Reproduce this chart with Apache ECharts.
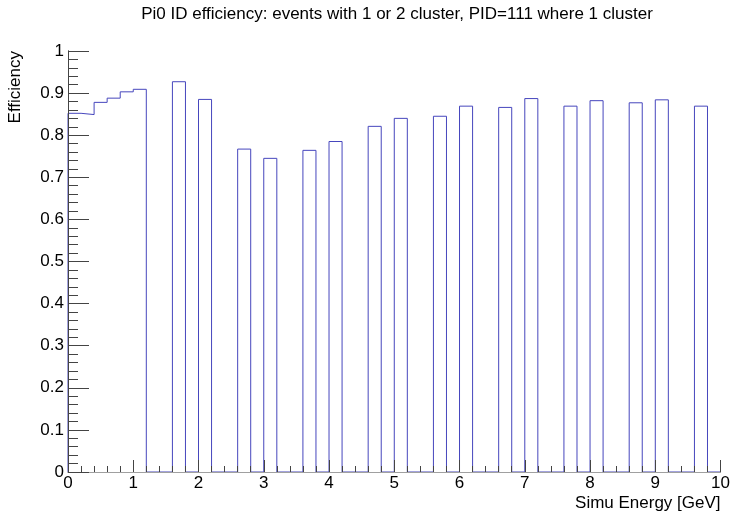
<!DOCTYPE html>
<html>
<head>
<meta charset="utf-8">
<script src="https://cdn.jsdelivr.net/npm/echarts@6/dist/echarts.min.js"></script>
<style>
  html, body { margin: 0; padding: 0; background: #fff; }
</style>
</head>
<body>
<div id="main" style="width: 733px;height: 513px"></div>
<script>
// histogram: 50 bins of 0.2 GeV from 0 to 10
const binWidth = 0.2
const xMin = 0
const xMax = 10
// efficiency per bin
const efficiency = [
  0.852, 0.849, 0.878, 0.888, 0.903, 0.909, 0, 0, 0.927, 0,
  0.885, 0, 0, 0.767, 0, 0.745, 0, 0, 0.764, 0,
  0.785, 0, 0, 0.821, 0, 0.840, 0, 0, 0.845, 0,
  0.869, 0, 0, 0.866, 0, 0.887, 0, 0, 0.869, 0,
  0.882, 0, 0, 0.877, 0, 0.884, 0, 0, 0.869, 0
]

// outline points: left edge of each bin, closed back to 0 at both ends
let outline = [[xMin, 0]]
for (let i = 0; i < efficiency.length; i++) {
  outline.push([xMin + i * binWidth, efficiency[i]])
}
outline.push([xMax, 0])

const font = 'Liberation Sans, Arial, Helvetica, sans-serif'

let myChart = echarts.init(document.getElementById('main'))
let option = {
  backgroundColor: '#fff',
  animation: false,
  title: {
    text: 'Pi0 ID efficiency: events with 1 or 2 cluster, PID=111 where 1 cluster',
    left: 392,
    textAlign: 'center',
    top: 1,
    textStyle: {
      fontFamily: font,
      fontSize: 17,
      fontWeight: 'normal',
      color: '#000'
    }
  },
  grid: {
    left: 68,
    right: 11,
    top: 51,
    bottom: 41
  },
  xAxis: [
    {
      type: 'value',
      min: xMin,
      max: xMax,
      interval: 1,
      z: 5,
      name: 'Simu Energy [GeV]',
      nameLocation: 'end',
      nameGap: 0,
      nameTextStyle: {
        fontFamily: font,
        fontSize: 17,
        color: '#000',
        align: 'right',
        verticalAlign: 'top',
        padding: [23, 0, 0, 0]
      },
      axisLine: { show: true, lineStyle: { color: '#a0a0a0', width: 1 } },
      axisTick: { show: true, inside: true, length: 12, lineStyle: { color: '#444' } },
      minorTick: { show: true, splitNumber: 5, length: 6, lineStyle: { color: '#444' } },
      axisLabel: { fontFamily: font, fontSize: 17, color: '#000', margin: 3 },
      splitLine: { show: false }
    },
    {
      type: 'value',
      position: 'top',
      min: xMin,
      max: xMax,
      axisLine: { show: true, lineStyle: { color: '#a8a8a8', width: 1 } },
      axisTick: { show: false },
      axisLabel: { show: false },
      splitLine: { show: false }
    }
  ],
  yAxis: [
    {
      type: 'value',
      min: 0,
      max: 1,
      interval: 0.1,
      z: 5,
      name: 'Efficiency',
      nameLocation: 'end',
      nameRotate: 90,
      nameGap: 0,
      nameTextStyle: {
        fontFamily: font,
        fontSize: 17,
        color: '#000',
        align: 'right',
        verticalAlign: 'bottom',
        padding: [0, 0, 44, 0]
      },
      axisLine: { show: true, lineStyle: { color: '#444', width: 1 } },
      axisTick: { show: true, inside: true, length: 21, lineStyle: { color: '#444' } },
      minorTick: { show: true, splitNumber: 5, length: 10, lineStyle: { color: '#444' } },
      axisLabel: { fontFamily: font, fontSize: 17, color: '#000', margin: 4 },
      splitLine: { show: false }
    },
    {
      type: 'value',
      position: 'right',
      min: 0,
      max: 1,
      axisLine: { show: true, lineStyle: { color: '#444', width: 1 } },
      axisTick: { show: false },
      axisLabel: { show: false },
      splitLine: { show: false }
    }
  ],
  series: [
    {
      name: 'efficiency',
      type: 'line',
      step: 'end',
      z: 2,
      showSymbol: false,
      symbol: 'none',
      data: outline,
      lineStyle: { color: '#4646bd', width: 1 },
      itemStyle: { color: '#4646bd' }
    }
  ]
}
myChart.setOption(option)
</script>
</body>
</html>
